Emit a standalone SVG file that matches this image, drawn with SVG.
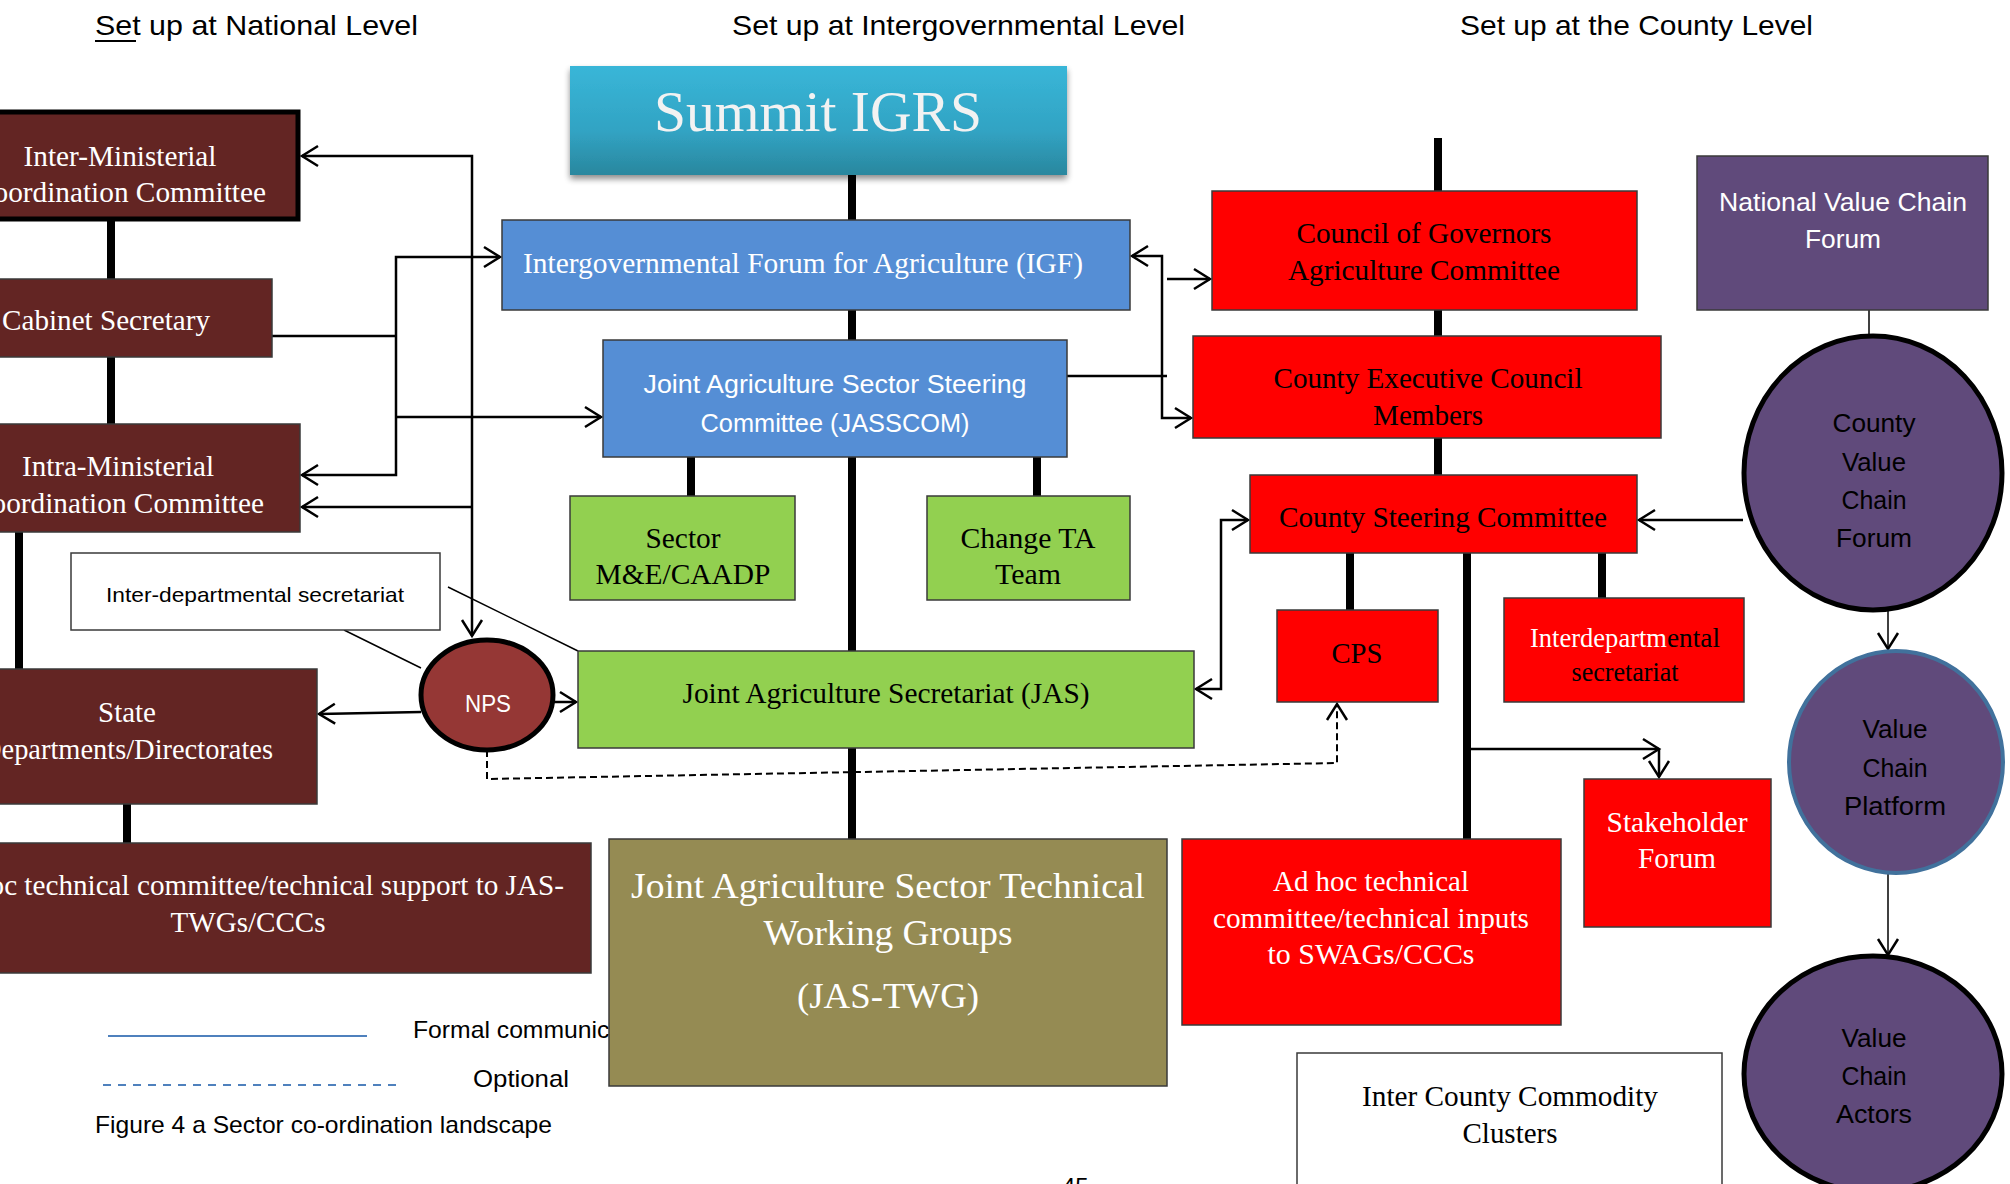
<svg xmlns="http://www.w3.org/2000/svg" width="2010" height="1184" viewBox="0 0 2010 1184">
<defs>
<style>
.hd{font-family:"Liberation Sans",Arial,sans-serif;font-size:28px;fill:#000;}
.lg{font-family:"Liberation Sans",Arial,sans-serif;font-size:24px;fill:#000;}
.tm{font-family:"Liberation Serif","Times New Roman",serif;font-size:29px;text-anchor:middle;}
.sn{font-family:"Liberation Sans",Arial,sans-serif;text-anchor:middle;}
.w{fill:#fff;}
.k{fill:#000;}
.bx{stroke:#3a3a3a;stroke-width:1.5;}
.mar{fill:#632523;}
.red{fill:#ff0000;}
.grn{fill:#92d050;}
.blu{fill:#558ed5;}
.pur{fill:#604a7b;}
.spine{stroke:#000;stroke-width:8;fill:none;}
.ln{stroke:#000;stroke-width:2.5;fill:none;}
.thin{stroke:#000;stroke-width:1.5;fill:none;}
</style>
<marker id="ah" markerUnits="userSpaceOnUse" markerWidth="24" markerHeight="24" refX="16" refY="10" orient="auto-start-reverse" overflow="visible">
<path d="M0,0 L16,10 L0,20" fill="none" stroke="#000" stroke-width="2.5"/>
</marker>
<linearGradient id="sg" x1="0" y1="0" x2="0" y2="1">
<stop offset="0" stop-color="#39b6d8"/>
<stop offset="0.6" stop-color="#31a3c3"/>
<stop offset="1" stop-color="#2a879e"/>
</linearGradient>
<filter id="sh" x="-10%" y="-10%" width="120%" height="130%">
<feGaussianBlur in="SourceAlpha" stdDeviation="3"/>
<feOffset dx="0" dy="4" result="o"/>
<feComponentTransfer><feFuncA type="linear" slope="0.45"/></feComponentTransfer>
<feMerge><feMergeNode/><feMergeNode in="SourceGraphic"/></feMerge>
</filter>
</defs>
<rect width="2010" height="1184" fill="#fff"/>

<g id="headings">
<text class="hd" x="95" y="35" textLength="323" lengthAdjust="spacingAndGlyphs">Set up at National Level</text>
<line x1="95" y1="41" x2="136" y2="41" stroke="#000" stroke-width="2"/>
<text class="hd" x="732" y="35" textLength="453" lengthAdjust="spacingAndGlyphs">Set up at Intergovernmental Level</text>
<text class="hd" x="1460" y="35" textLength="353" lengthAdjust="spacingAndGlyphs">Set up at the County Level</text>
</g>

<g id="legend">
<line x1="108" y1="1036" x2="367" y2="1036" stroke="#4f81bd" stroke-width="2"/>
<text class="lg" x="413" y="1038" textLength="250" lengthAdjust="spacingAndGlyphs">Formal communication</text>
<line x1="103" y1="1085" x2="400" y2="1085" stroke="#4f81bd" stroke-width="2" stroke-dasharray="8,7"/>
<text class="lg" x="473" y="1087" textLength="96" lengthAdjust="spacingAndGlyphs">Optional</text>
<text class="lg" x="95" y="1133" textLength="457" lengthAdjust="spacingAndGlyphs">Figure 4 a Sector co-ordination landscape</text>
<text class="lg" x="1062" y="1195">45</text>
</g>

<g id="connectors">
<path class="spine" d="M852,175 V220 M852,310 V340 M852,457 V651 M852,748 V839"/>
<path class="spine" d="M691,457 V496 M1037,457 V496"/>
<path class="spine" d="M111,221 V279 M111,357 V424 M19,532 V669 M127,804 V843"/>
<path class="spine" d="M1438,138 V191 M1438,310 V336 M1438,438 V475"/>
<path class="spine" d="M1350,553 V610 M1602,553 V598 M1467,553 V839"/>
<path class="ln" d="M472,636 V156 H302" marker-start="url(#ah)" marker-end="url(#ah)"/>
<path class="ln" d="M472,507 H302" marker-end="url(#ah)"/>
<path class="ln" d="M272,336 H396"/>
<path class="ln" d="M500,257 H396 V475 H302" marker-start="url(#ah)" marker-end="url(#ah)"/>
<path class="ln" d="M396,417 H601" marker-end="url(#ah)"/>
<path class="ln" d="M421,712 L319,714" marker-end="url(#ah)"/>
<path class="ln" d="M554,702 H576" marker-end="url(#ah)"/>
<path class="thin" d="M344,630 L421,668 M448,587 L578,651"/>
<path d="M487,750 V779 L1337,763 V704" fill="none" stroke="#000" stroke-width="2" stroke-dasharray="7,4" marker-end="url(#ah)"/>
<path class="ln" d="M1132,256 H1162 V418 H1191" marker-start="url(#ah)" marker-end="url(#ah)"/>
<path class="ln" d="M1167,279 H1210" marker-end="url(#ah)"/>
<path class="ln" d="M1067,376 H1167"/>
<path class="ln" d="M1248,520 H1221 V689 H1196" marker-start="url(#ah)" marker-end="url(#ah)"/>
<path class="ln" d="M1743,520 H1639" marker-end="url(#ah)"/>
<path class="ln" d="M1467,749 H1659" marker-end="url(#ah)"/>
<path class="ln" d="M1659,749 V777" marker-end="url(#ah)"/>
<path class="thin" d="M1869,310 V336"/>
<path class="thin" d="M1888,611 V649" marker-end="url(#ah)"/>
<path class="thin" d="M1888,873 V955" marker-end="url(#ah)"/>
</g>

<g id="summit">
<rect x="570" y="66" width="497" height="109" fill="url(#sg)" filter="url(#sh)"/>
<text class="tm" x="818" y="131" style="font-size:57px;fill:#f2f2f2" textLength="328" lengthAdjust="spacingAndGlyphs">Summit IGRS</text>
</g>

<g id="inter-ministerial">
<rect x="-60" y="112" width="358" height="107" class="mar" stroke="#000" stroke-width="5"/>
<text class="tm w" x="120" y="166" textLength="193" lengthAdjust="spacingAndGlyphs">Inter-Ministerial</text>
<text class="tm w" x="120" y="202" textLength="292" lengthAdjust="spacingAndGlyphs">Coordination Committee</text>
</g>

<g id="cabinet-secretary">
<rect x="-60" y="279" width="332" height="78" class="mar bx"/>
<text class="tm w" x="106" y="330" textLength="208" lengthAdjust="spacingAndGlyphs">Cabinet Secretary</text>
</g>

<g id="intra-ministerial">
<rect x="-60" y="424" width="360" height="108" class="mar bx"/>
<text class="tm w" x="118" y="476" textLength="192" lengthAdjust="spacingAndGlyphs">Intra-Ministerial</text>
<text class="tm w" x="118" y="513" textLength="292" lengthAdjust="spacingAndGlyphs">Coordination Committee</text>
</g>

<g id="inter-departmental-secretariat">
<rect x="71" y="553" width="369" height="77" fill="#fff" class="bx"/>
<text class="sn k" x="255" y="602" font-size="21" textLength="298" lengthAdjust="spacingAndGlyphs">Inter-departmental secretariat</text>
</g>

<g id="state-departments">
<rect x="-62" y="669" width="379" height="135" class="mar bx"/>
<text class="tm w" x="127" y="722" textLength="58" lengthAdjust="spacingAndGlyphs">State</text>
<text class="tm w" x="127" y="759" textLength="292" lengthAdjust="spacingAndGlyphs">Departments/Directorates</text>
</g>

<g id="nps">
<ellipse cx="487" cy="695" rx="66" ry="55" fill="#953735" stroke="#000" stroke-width="5"/>
<text class="sn w" x="488" y="712" font-size="24" textLength="46" lengthAdjust="spacingAndGlyphs">NPS</text>
</g>

<g id="adhoc-national">
<rect x="-95" y="843" width="686" height="130" class="mar bx"/>
<text class="tm w" x="248" y="895" textLength="632" lengthAdjust="spacingAndGlyphs">Ad hoc technical committee/technical support to JAS-</text>
<text class="tm w" x="248" y="932" textLength="155" lengthAdjust="spacingAndGlyphs">TWGs/CCCs</text>
</g>

<g id="igf">
<rect x="502" y="220" width="628" height="90" class="blu bx"/>
<text class="tm w" x="803" y="273" textLength="560" lengthAdjust="spacingAndGlyphs">Intergovernmental Forum for Agriculture (IGF)</text>
</g>

<g id="jasscom">
<rect x="603" y="340" width="464" height="117" class="blu bx"/>
<text class="sn w" x="835" y="393" font-size="25" textLength="383" lengthAdjust="spacingAndGlyphs">Joint Agriculture Sector Steering</text>
<text class="sn w" x="835" y="432" font-size="25" textLength="269" lengthAdjust="spacingAndGlyphs">Committee (JASSCOM)</text>
</g>

<g id="sector-me">
<rect x="570" y="496" width="225" height="104" class="grn bx"/>
<text class="tm k" x="683" y="548" textLength="75" lengthAdjust="spacingAndGlyphs">Sector</text>
<text class="tm k" x="683" y="584" textLength="175" lengthAdjust="spacingAndGlyphs">M&amp;E/CAADP</text>
</g>

<g id="change-ta">
<rect x="927" y="496" width="203" height="104" class="grn bx"/>
<text class="tm k" x="1028" y="548" textLength="135" lengthAdjust="spacingAndGlyphs">Change TA</text>
<text class="tm k" x="1028" y="584" textLength="66" lengthAdjust="spacingAndGlyphs">Team</text>
</g>

<g id="jas">
<rect x="578" y="651" width="616" height="97" class="grn bx"/>
<text class="tm k" x="886" y="703" textLength="407" lengthAdjust="spacingAndGlyphs">Joint Agriculture Secretariat (JAS)</text>
</g>

<g id="jas-twg">
<rect x="609" y="839" width="558" height="247" fill="#958b53" class="bx"/>
<text class="tm w" x="888" y="898" style="font-size:36px" textLength="514" lengthAdjust="spacingAndGlyphs">Joint Agriculture Sector Technical</text>
<text class="tm w" x="888" y="945" style="font-size:36px" textLength="249" lengthAdjust="spacingAndGlyphs">Working Groups</text>
<text class="tm w" x="888" y="1008" style="font-size:36px" textLength="182" lengthAdjust="spacingAndGlyphs">(JAS-TWG)</text>
</g>

<g id="council-of-governors">
<rect x="1212" y="191" width="425" height="119" class="red bx"/>
<text class="tm k" x="1424" y="243" textLength="255" lengthAdjust="spacingAndGlyphs">Council of Governors</text>
<text class="tm k" x="1424" y="280" textLength="272" lengthAdjust="spacingAndGlyphs">Agriculture Committee</text>
</g>

<g id="county-executive">
<rect x="1193" y="336" width="468" height="102" class="red bx"/>
<text class="tm k" x="1428" y="388" textLength="309" lengthAdjust="spacingAndGlyphs">County Executive Council</text>
<text class="tm k" x="1428" y="425" textLength="110" lengthAdjust="spacingAndGlyphs">Members</text>
</g>

<g id="county-steering">
<rect x="1250" y="475" width="387" height="78" class="red bx"/>
<text class="tm k" x="1443" y="527" textLength="328" lengthAdjust="spacingAndGlyphs">County Steering Committee</text>
</g>

<g id="cps">
<rect x="1277" y="610" width="161" height="92" class="red bx"/>
<text class="tm k" x="1357" y="663" textLength="51" lengthAdjust="spacingAndGlyphs">CPS</text>
</g>

<g id="interdepartmental-secretariat">
<rect x="1504" y="598" width="240" height="104" class="red bx"/>
<text class="tm" x="1530" y="647" style="font-size:27px;text-anchor:start;fill:#fff" textLength="137" lengthAdjust="spacingAndGlyphs">Interdepartm</text>
<text class="tm" x="1667" y="647" style="font-size:27px;text-anchor:start;fill:#000" textLength="53" lengthAdjust="spacingAndGlyphs">ental</text>
<text class="tm k" x="1625" y="681" style="font-size:27px" textLength="107" lengthAdjust="spacingAndGlyphs">secretariat</text>
</g>

<g id="stakeholder-forum">
<rect x="1584" y="779" width="187" height="148" class="red bx"/>
<text class="tm w" x="1677" y="832" textLength="141" lengthAdjust="spacingAndGlyphs">Stakeholder</text>
<text class="tm w" x="1677" y="868" textLength="78" lengthAdjust="spacingAndGlyphs">Forum</text>
</g>

<g id="adhoc-county">
<rect x="1182" y="839" width="379" height="186" class="red bx"/>
<text class="tm w" x="1371" y="891" textLength="196" lengthAdjust="spacingAndGlyphs">Ad hoc technical</text>
<text class="tm w" x="1371" y="928" textLength="316" lengthAdjust="spacingAndGlyphs">committee/technical inputs</text>
<text class="tm w" x="1371" y="964" textLength="207" lengthAdjust="spacingAndGlyphs">to SWAGs/CCCs</text>
</g>

<g id="inter-county-clusters">
<rect x="1297" y="1053" width="425" height="150" fill="#fff" class="bx"/>
<text class="tm k" x="1510" y="1106" textLength="296" lengthAdjust="spacingAndGlyphs">Inter County Commodity</text>
<text class="tm k" x="1510" y="1143" textLength="95" lengthAdjust="spacingAndGlyphs">Clusters</text>
</g>

<g id="national-value-chain-forum">
<rect x="1697" y="156" width="291" height="154" class="pur bx"/>
<text class="sn w" x="1843" y="211" font-size="26" textLength="248" lengthAdjust="spacingAndGlyphs">National Value Chain</text>
<text class="sn w" x="1843" y="248" font-size="26" textLength="76" lengthAdjust="spacingAndGlyphs">Forum</text>
</g>

<g id="county-value-chain-forum">
<ellipse cx="1873" cy="473" rx="129" ry="137" class="pur" stroke="#000" stroke-width="5"/>
<text class="sn k" x="1874" y="432" font-size="26" textLength="83" lengthAdjust="spacingAndGlyphs">County</text>
<text class="sn k" x="1874" y="471" font-size="26" textLength="64" lengthAdjust="spacingAndGlyphs">Value</text>
<text class="sn k" x="1874" y="509" font-size="26" textLength="65" lengthAdjust="spacingAndGlyphs">Chain</text>
<text class="sn k" x="1874" y="547" font-size="26" textLength="76" lengthAdjust="spacingAndGlyphs">Forum</text>
</g>

<g id="value-chain-platform">
<ellipse cx="1896" cy="762" rx="107" ry="111" class="pur" stroke="#41719c" stroke-width="4"/>
<text class="sn k" x="1895" y="738" font-size="26" textLength="65" lengthAdjust="spacingAndGlyphs">Value</text>
<text class="sn k" x="1895" y="777" font-size="26" textLength="65" lengthAdjust="spacingAndGlyphs">Chain</text>
<text class="sn k" x="1895" y="815" font-size="26" textLength="102" lengthAdjust="spacingAndGlyphs">Platform</text>
</g>

<g id="value-chain-actors">
<ellipse cx="1873" cy="1074" rx="129" ry="118" class="pur" stroke="#000" stroke-width="5"/>
<text class="sn k" x="1874" y="1047" font-size="26" textLength="65" lengthAdjust="spacingAndGlyphs">Value</text>
<text class="sn k" x="1874" y="1085" font-size="26" textLength="65" lengthAdjust="spacingAndGlyphs">Chain</text>
<text class="sn k" x="1874" y="1123" font-size="26" textLength="76" lengthAdjust="spacingAndGlyphs">Actors</text>
</g>
</svg>
